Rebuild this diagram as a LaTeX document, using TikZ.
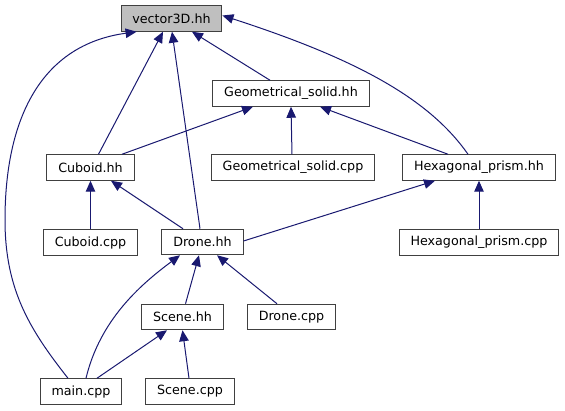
\documentclass[tikz,border=0pt]{standalone}
\usepackage{fontspec}
\setmainfont{DejaVu Sans}
\usetikzlibrary{arrows.meta,positioning}
\definecolor{depBlue}{HTML}{191970}
\definecolor{boxGrey}{HTML}{404040}
\definecolor{rootFill}{HTML}{BFBFBF}

\begin{document}
\begin{tikzpicture}[
    x=1pt, y=-1pt,
    font=\fontsize{12.7}{15}\selectfont,
    file/.style={draw=boxGrey, line width=1pt, fill=white, minimum height=25.5pt,
                 inner xsep=11.3pt, inner ysep=2pt, anchor=center},
    rootfile/.style={file, fill=rootFill},
    dep/.style={{Triangle[length=11pt,width=9.5pt]}-, depBlue, line width=1pt}
]
\useasboundingbox (0,0) rectangle (565,411);

% -- Row 1: root header
\node[rootfile] (vec) at (171.5,18.5) {vector3D.hh};

% -- Row 2: base class
\node[file] (geo) at (291,93.5) {Geometrical\_solid.hh};

% -- Row 3: solids
\node[file] (cub) at (90.5,167.5) {Cuboid.hh};
\node[file] (geocpp) at (293,167.5) {Geometrical\_solid.cpp};
\node[file] (hex) at (479,167.5) {Hexagonal\_prism.hh};

% -- Row 4: sources + drone
\node[file, below=48.5pt of cub] (cubcpp) {Cuboid.cpp};
\node[file] (drone) at (202.5,242) {Drone.hh};
\node[file, below=48.5pt of hex] (hexcpp) {Hexagonal\_prism.cpp};

% -- Row 5: scene
\node[file] (scene) at (182.5,317) {Scene.hh};
\node[file] (dronecpp) at (291.5,317) {Drone.cpp};

% -- Row 6: entry point
\node[file] (main) at (81,391.5) {main.cpp};
\node[file] (scenecpp) at (190,391.5) {Scene.cpp};

% -- includes of vector3D.hh
\draw[dep] ([xshift=20.5]vec.south) -- ([xshift=-21]geo.north);
\draw[dep] ([xshift=-8.5]vec.south) -- ([xshift=8]cub.north);
\draw[dep] ([xshift=0.5]vec.south) -- ([xshift=-2.5]drone.north);
\draw[dep] ([yshift=3]vec.east) .. controls (360,60) and (430,100) .. ([xshift=-11]hex.north);
\draw[dep] ([xshift=16]vec.south west) .. controls (40,45) and (5,120) .. (5,220)
    .. controls (5,290) and (30,330) .. ([xshift=-13]main.north);

% -- includes of Geometrical_solid.hh
\draw[dep] ([xshift=-38]geo.south) -- ([xshift=31.5]cub.north);
\draw[dep] (geo.south) -- ([xshift=-1]geocpp.north);
\draw[dep] ([xshift=29]geo.south) -- ([xshift=-31]hex.north);

% -- includes of Cuboid.hh and Hexagonal_prism.hh
\draw[dep] (cub.south) -- (cubcpp.north);
\draw[dep] ([xshift=20.5]cub.south) -- ([xshift=-19.5]drone.north);
\draw[dep] ([xshift=-44]hex.south) -- ([yshift=1]drone.east);
\draw[dep] (hex.south) -- (hexcpp.north);

% -- includes of Drone.hh
\draw[dep] ([xshift=-22.5]drone.south) .. controls (140,285) and (100,320) .. ([xshift=5]main.north);
\draw[dep] ([xshift=-3.5]drone.south) -- ([xshift=3]scene.north);
\draw[dep] ([xshift=14.5]drone.south) -- ([xshift=-14.5]dronecpp.north);

% -- includes of Scene.hh
\draw[dep] ([xshift=-15.5]scene.south) -- ([xshift=16]main.north);
\draw[dep] (scene.south) -- ([xshift=-1]scenecpp.north);

\end{tikzpicture}
\end{document}
